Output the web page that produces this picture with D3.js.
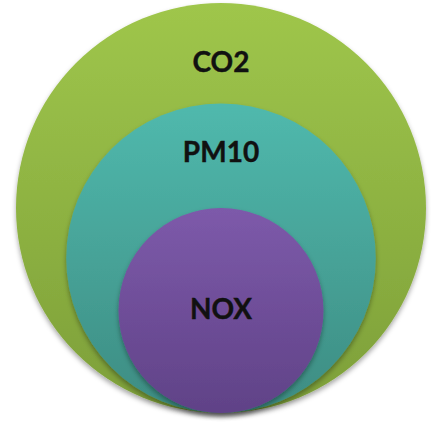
<!DOCTYPE html>
<html>
<head>
<meta charset="utf-8">
<script src="https://cdn.jsdelivr.net/npm/d3@7.9.0/dist/d3.min.js"></script>
<style>
  html, body { margin: 0; padding: 0; background: #fff; }
  svg { display: block; }
</style>
</head>
<body>
<div id="chart"></div>
<script>
// nested circles, outer to inner
const labels = ['CO2', 'PM10', 'NOX'];
const sizes = [100, 75.5, 50];          // relative size of each circle
const topColors = ['#9fc64b', '#50b9ad', '#7d5aaa'];
const bottomColors = ['#7d9f39', '#3d8c82', '#604287'];

const width = 431;
const height = 422;
const cx = 221;
const bottom = 413;

const r = d3.scaleLinear().domain([0, 100]).range([0, 205]);

const svg = d3.select('#chart')
    .append('svg')
    .attr('width', width)
    .attr('height', height);

const defs = svg.append('defs');

const shadow = defs.append('filter')
    .attr('id', 'shadow')
    .attr('x', '-10%').attr('y', '-10%')
    .attr('width', '120%').attr('height', '120%');
shadow.append('feDropShadow')
    .attr('dx', 0).attr('dy', 3)
    .attr('stdDeviation', 2.5)
    .attr('flood-color', '#000')
    .attr('flood-opacity', 0.35);

labels.forEach((l, i) => {
    let g = defs.append('linearGradient')
        .attr('id', 'grad' + i)
        .attr('x1', 0).attr('y1', 0)
        .attr('x2', 0).attr('y2', 1);
    g.append('stop').attr('offset', '0%').attr('stop-color', topColors[i]);
    g.append('stop').attr('offset', '100%').attr('stop-color', bottomColors[i]);
});

const data = labels.map((l, i) => ({ label: l, size: sizes[i], i }));

svg.selectAll('circle')
    .data(data)
    .join('circle')
    .attr('cx', cx)
    .attr('cy', d => bottom - r(d.size))
    .attr('r', d => r(d.size))
    .attr('fill', d => `url(#grad${d.i})`)
    .attr('filter', 'url(#shadow)');

// outer labels sit near the top of their ring, the inner one in its centre
svg.selectAll('text')
    .data(data)
    .join('text')
    .attr('x', cx)
    .attr('y', (d, i) => {
        let top = bottom - 2 * r(d.size);
        if (i === data.length - 1) return bottom - r(d.size) + 8;
        return top + (i === 0 ? 69 : 59);
    })
    .attr('text-anchor', 'middle')
    .style('font-family', 'Lato, "Open Sans", sans-serif')
    .style('font-weight', 700)
    .style('font-size', '28px')
    .style('fill', '#111')
    .style('stroke', '#111')
    .style('stroke-width', 0.4)
    .text(d => d.label);
</script>
</body>
</html>
